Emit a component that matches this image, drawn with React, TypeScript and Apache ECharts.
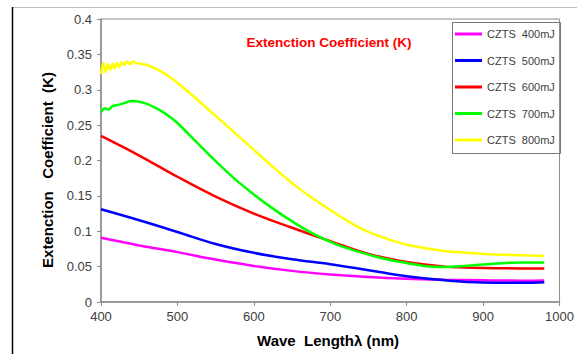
import React, { useEffect, useRef } from "react";
import * as echarts from "echarts";

const seriesNames = ["CZTS  400mJ", "CZTS  500mJ", "CZTS  600mJ", "CZTS  700mJ", "CZTS  800mJ"];
const seriesColors = ["#FF00FF", "#0000FF", "#FF0000", "#00FF00", "#FFFF00"];

const wl = [400, 450, 500, 550, 600, 650, 700, 750, 800, 850, 900, 950, 980];
const k400 = [0.0907, 0.08, 0.0705, 0.06, 0.051, 0.044, 0.039, 0.0354, 0.033, 0.0316, 0.0307, 0.0302, 0.0305];
const k500 = [0.131, 0.1155, 0.099, 0.082, 0.0695, 0.0605, 0.0535, 0.045, 0.0364, 0.0307, 0.0276, 0.0272, 0.028];
const k600 = [0.2347, 0.207, 0.177, 0.149, 0.125, 0.105, 0.086, 0.068, 0.0565, 0.05, 0.048, 0.0475, 0.0475];

const wl700 = [400, 405, 410, 415, 420, 430, 440, 450, 460, 470, 480, 490, 500, 525, 550, 575, 600, 625, 650, 675, 700, 725, 750, 775, 800, 830, 850, 875, 900, 950, 980];
const k700 = [0.268, 0.274, 0.272, 0.277, 0.278, 0.281, 0.284, 0.283, 0.28, 0.275, 0.269, 0.262, 0.253, 0.226, 0.199, 0.174, 0.152, 0.132, 0.114, 0.098, 0.085, 0.075, 0.067, 0.06, 0.055, 0.0502, 0.0495, 0.051, 0.053, 0.056, 0.056];

const wl800 = [400, 403, 406, 409, 412, 415, 418, 421, 424, 427, 430, 434, 438, 442, 446, 450, 460, 475, 490, 500, 525, 550, 575, 600, 625, 650, 675, 700, 725, 750, 775, 800, 850, 900, 950, 980];
const k800 = [0.322, 0.338, 0.325, 0.336, 0.328, 0.337, 0.33, 0.338, 0.332, 0.339, 0.335, 0.34, 0.336, 0.34, 0.338, 0.337, 0.335, 0.328, 0.318, 0.31, 0.287, 0.263, 0.239, 0.215, 0.191, 0.168, 0.148, 0.13, 0.113, 0.099, 0.089, 0.081, 0.072, 0.068, 0.066, 0.065];

const xTicks = { min: 400, max: 1000, interval: 100 };
const yTicks = { min: 0, max: 0.4, interval: 0.05 };

const pair = (xs: number[], ys: number[]) => xs.map((x, i) => [x, ys[i]]);

export default function App() {
  const ref = useRef<HTMLDivElement>(null);
  useEffect(() => {
    if (!ref.current) return;
    const chart = echarts.init(ref.current, null, { renderer: "svg" });
    const datasets = [pair(wl, k400), pair(wl, k500), pair(wl, k600), pair(wl700, k700), pair(wl800, k800)];
    const smooths = [0.4, 0.4, 0.4, 0.3, 0.3];
    chart.setOption({
      animation: false,
      backgroundColor: "#ffffff",
      textStyle: { fontFamily: "Liberation Sans, Arial, sans-serif" },
      grid: {
        left: 101,
        right: 14,
        top: 19,
        bottom: 52,
        show: true,
        borderColor: "#8c8c8c",
        borderWidth: 1,
        backgroundColor: "transparent",
      },
      xAxis: {
        type: "value",
        ...xTicks,
        axisLine: { show: true, lineStyle: { color: "#8c8c8c", width: 1.5 } },
        axisTick: { show: true, length: 4, lineStyle: { color: "#8c8c8c" } },
        axisLabel: { color: "#404040", fontSize: 13, margin: 8, formatter: (v: number) => String(v) },
        splitLine: { show: false },
      },
      yAxis: {
        type: "value",
        ...yTicks,
        axisLine: { show: true, lineStyle: { color: "#8c8c8c", width: 1.5 } },
        axisTick: { show: true, length: 4, lineStyle: { color: "#8c8c8c" } },
        axisLabel: { color: "#404040", fontSize: 13, margin: 9 },
        splitLine: { show: false },
      },
      legend: {
        orient: "vertical",
        left: 455,
        top: 27,
        itemWidth: 27,
        itemHeight: 3,
        itemGap: 12.5,
        icon: "rect",
        padding: 0,
        textStyle: { color: "#404040", fontSize: 11, lineHeight: 14 },
        data: seriesNames,
      },
      series: datasets.map((d, i) => ({
        name: seriesNames[i],
        type: "line",
        data: d,
        showSymbol: false,
        smooth: smooths[i],
        lineStyle: { color: seriesColors[i], width: 2.5 },
        itemStyle: { color: seriesColors[i] },
      })),
      graphic: [
        { type: "line", shape: { x1: 12, y1: 7.5, x2: 577, y2: 7.5 }, style: { stroke: "#bfbfbf", lineWidth: 1 } },
        { type: "line", shape: { x1: 12.5, y1: 7, x2: 12.5, y2: 354 }, style: { stroke: "#000000", lineWidth: 1.5 } },
        { type: "rect", shape: { x: 452.5, y: 22.5, width: 108, height: 131 }, style: { fill: "none", stroke: "#777777", lineWidth: 1 } },
        {
          type: "text",
          x: 329,
          y: 42,
          style: { text: "Extenction Coefficient (K)", fill: "#FF0000", font: "bold 13.5px Liberation Sans, Arial, sans-serif", textAlign: "center", textVerticalAlign: "middle" },
        },
        {
          type: "text",
          x: 328,
          y: 340,
          style: { text: "Wave  Lengthλ (nm)", fill: "#000000", font: "bold 15px Liberation Sans, Arial, sans-serif", textAlign: "center", textVerticalAlign: "middle" },
        },
        {
          type: "text",
          x: 47,
          y: 170,
          rotation: Math.PI / 2,
          style: { text: "Extenction   Coefficient  (K)", fill: "#000000", font: "bold 15px Liberation Sans, Arial, sans-serif", textAlign: "center", textVerticalAlign: "middle" },
        },
      ],
    });
    return () => chart.dispose();
  }, []);
  return <div ref={ref} style={{ width: 577, height: 354, position: "absolute", left: 0, top: 0 }} />;
}
